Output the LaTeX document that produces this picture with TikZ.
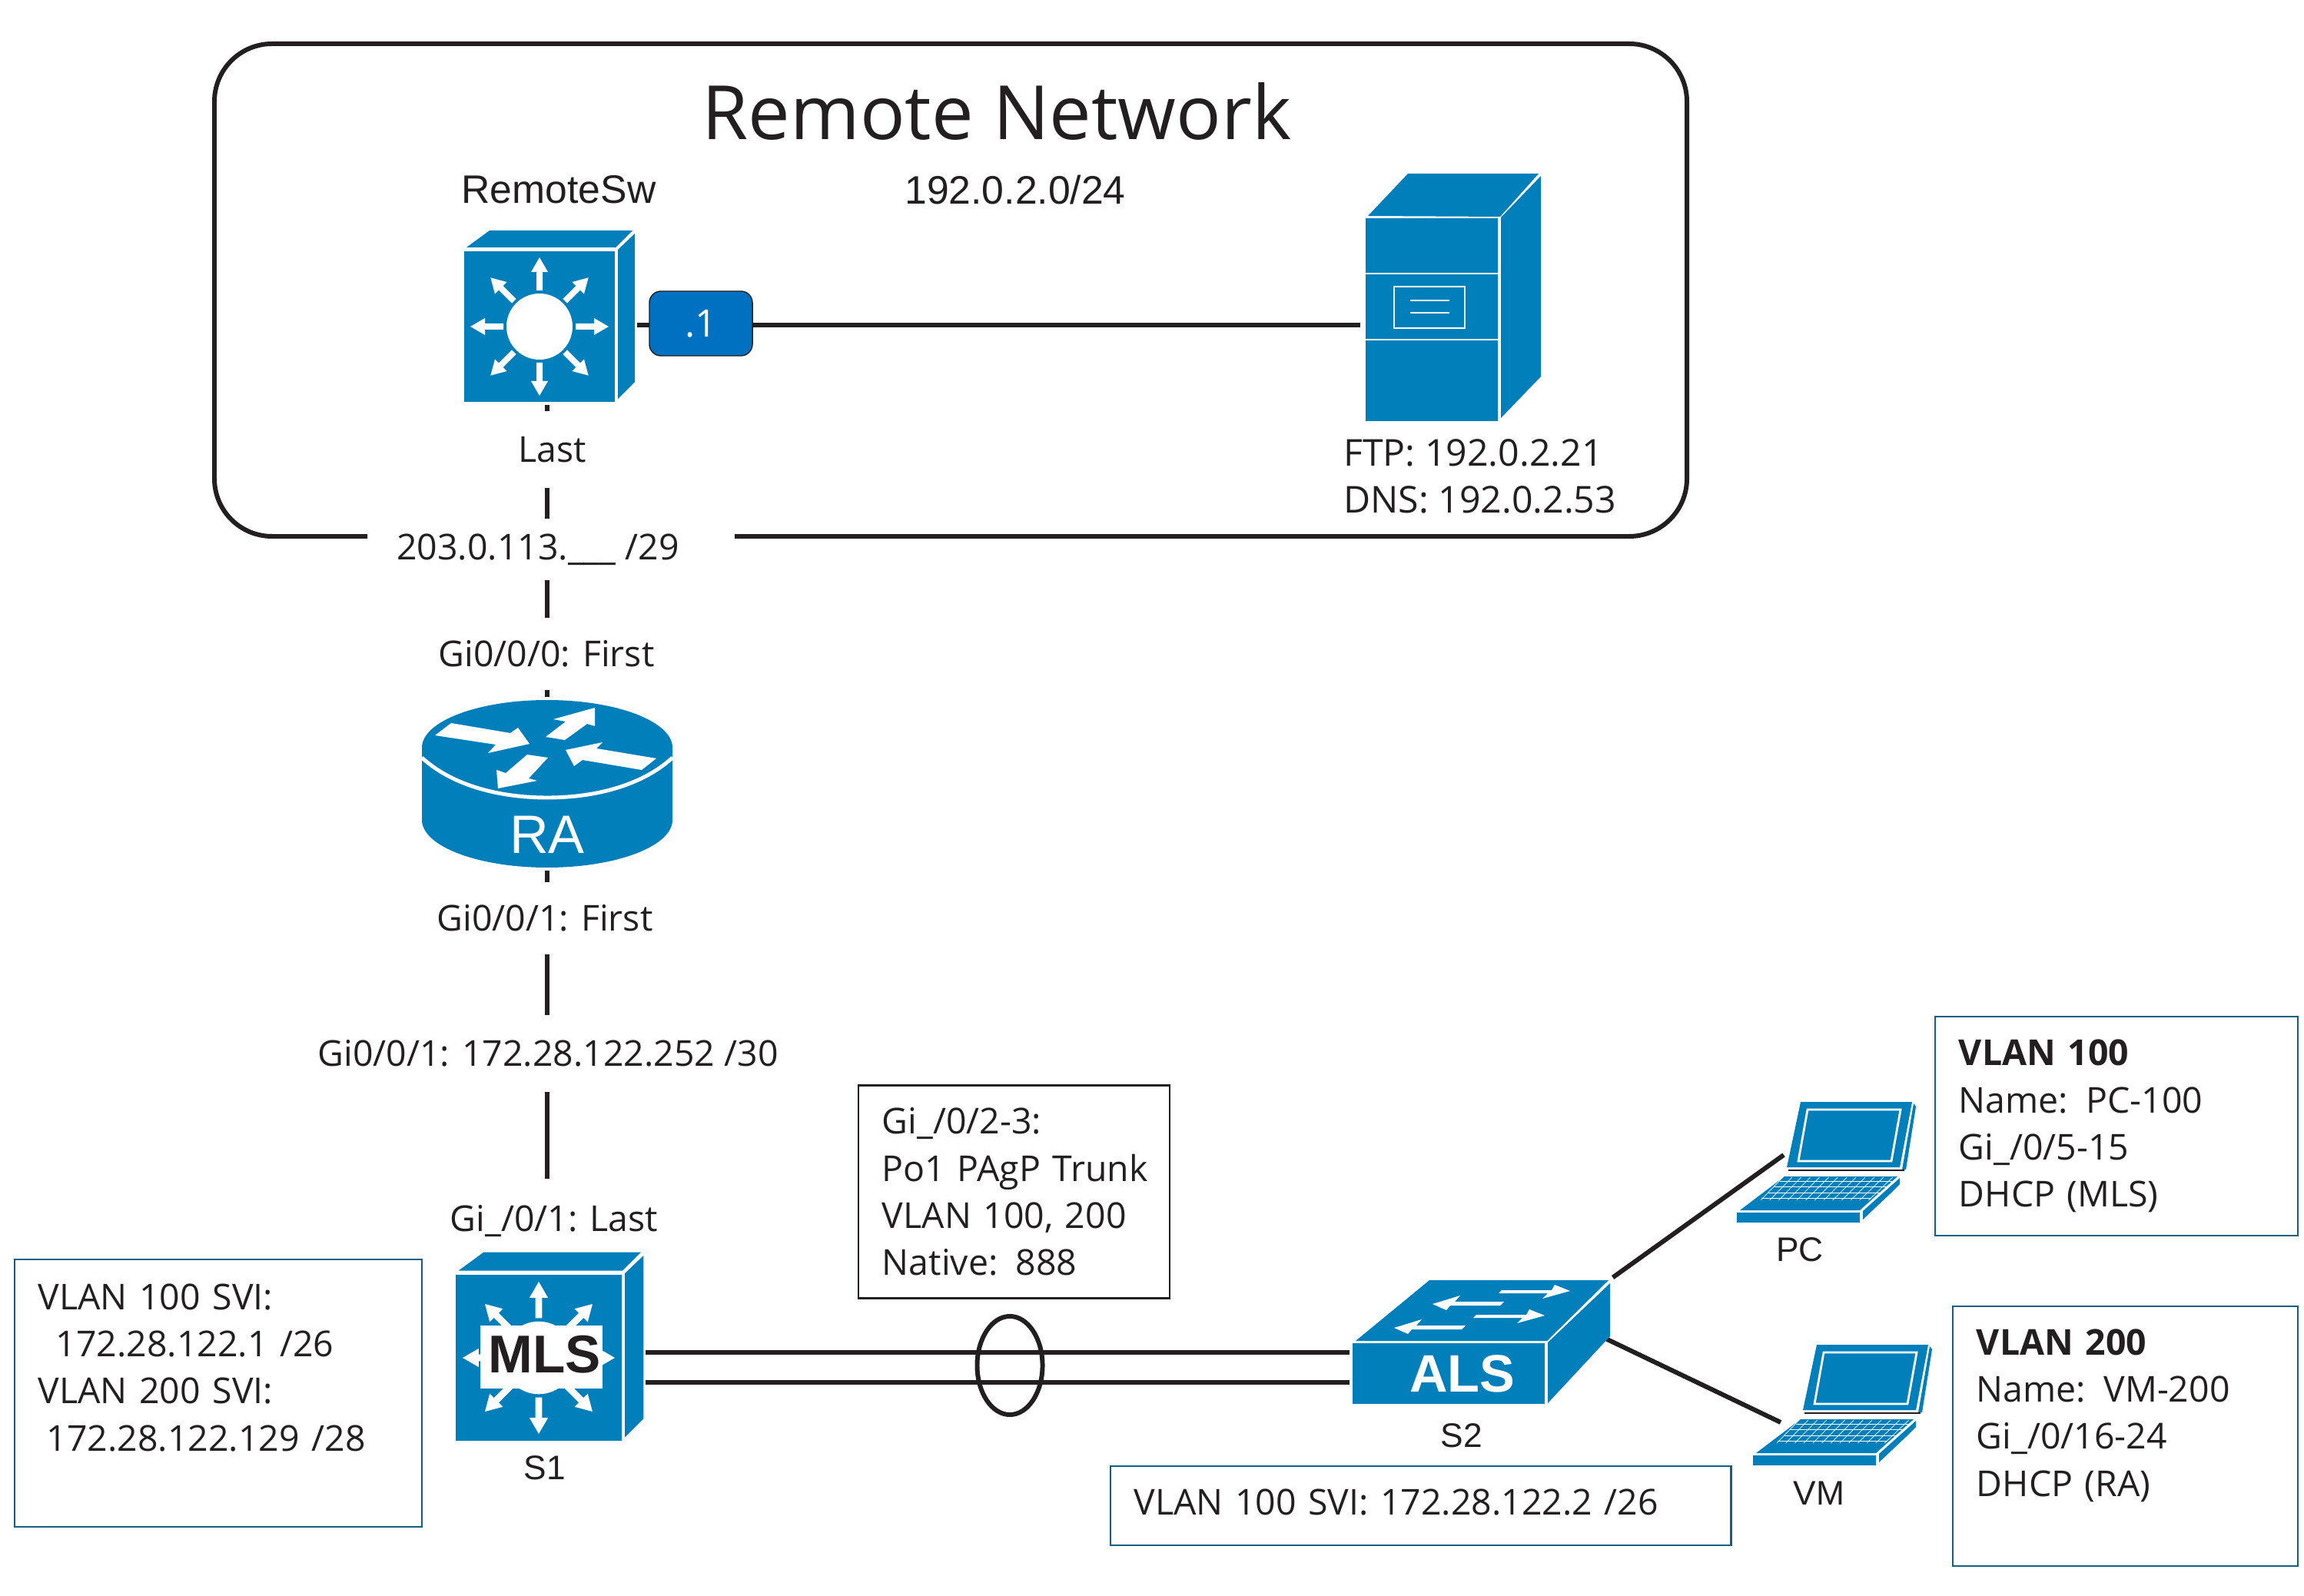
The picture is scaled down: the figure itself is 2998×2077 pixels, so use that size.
\documentclass[tikz,border=0pt]{standalone}
\usepackage{fontspec}
\setmainfont{Open Sans}
\newfontfamily\arialfont{Liberation Sans}
\usetikzlibrary{shapes.geometric}
\definecolor{ink}{HTML}{231F20}
\definecolor{cisco}{HTML}{007FBA}
\definecolor{badgeblue}{HTML}{0070C0}
\definecolor{boxline}{HTML}{156082}
\tikzset{
  wire/.style={draw=ink, line width=1.7pt},
  icon/.style={inner sep=0pt, outer sep=1pt},
  lab/.style={text=ink, font=\fontsize{13.2}{17.4}\selectfont, align=left},
  gaplab/.style={lab, fill=white, inner sep=0pt},
  dev/.style={text=ink, font=\arialfont\fontsize{12.6}{15}\selectfont},
  infobox/.style={lab, draw=boxline, line width=0.7pt, inner xsep=0.31cm, inner ysep=0pt},
  l3switch/.pic={
    \fill[cisco] (-98,-98) rectangle (98,98);
    \fill[cisco] (-95,-103) -- (-65,-125) -- (121,-125) -- (99,-103) -- cycle;
    \fill[cisco] (102,-100) -- (124,-121) -- (124,72) -- (102,94) -- cycle;
    \foreach \a in {0,45,...,315}
      \fill[white,rotate=\a] (47,-4) -- (71,-4) -- (71,-11) -- (90,0) -- (71,11) -- (71,4) -- (47,4) -- cycle;
    \fill[white] (0,0) circle [radius=43];
  },
  routerpic/.pic={
    \fill[cisco] (-163,0) rectangle (163,94);
    \fill[cisco] (0,94) ellipse [x radius=163, y radius=62];
    \fill[cisco] (0,0) ellipse [x radius=163, y radius=62];
    \draw[white, line width=1.4pt] (-163,13) .. controls (-125,48) and (-65,65) .. (0,65) .. controls (65,65) and (125,48) .. (163,13);
    \fill[white] (-146,-16) -- (-125,-32) -- (-48,-19) -- (-38,-26) -- (-23,-5) -- (-77,7) -- (-67,-4) -- cycle;
    \fill[white] (-2,-14) -- (24,-34) -- (8,-37) -- (62,-52) -- (62,-28) -- (52,-31) -- (23,-10) -- cycle;
    \fill[white] (142,14) -- (123,29) -- (46,16) -- (35,24) -- (24,3) -- (72,-7) -- (64,1) -- cycle;
    \fill[white] (-26,9) -- (1,13) -- (-24,40) -- (-13,43) -- (-64,53) -- (-66,29) -- (-54,33) -- cycle;
  },
  serverpic/.pic={
    \fill[cisco] (3,58) rectangle (175,322);
    \fill[cisco] (6,55) -- (58,0) -- (228,0) -- (178,56) -- cycle;
    \fill[cisco] (179,57) -- (231,3) -- (231,264) -- (179,318) -- cycle;
    \draw[white, line width=0.8pt] (3,130) -- (175,130) (3,216) -- (175,216);
    \draw[white, line width=0.8pt] (40,147) rectangle (132,201);
    \draw[white, line width=0.8pt] (61,165) -- (112,165) (61,181) -- (112,181);
  },
  l2switch/.pic={
    \fill[cisco] (0,0) rectangle (250,79);
    \fill[cisco] (4,-3) -- (100,-82) -- (333,-82) -- (253,-3) -- cycle;
    \fill[cisco] (254,-1) -- (335,-78) -- (335,-9) -- (254,78) -- cycle;
    \foreach \dx/\dy in {0/0,-33/32}
      \fill[white,shift={(\dx,\dy)}] (194,-69) -- (259,-69) -- (263,-76) -- (283,-68) -- (247,-58) -- (254,-65) -- (190,-65) -- cycle;
    \foreach \dx/\dy in {0/0,-50/31}
      \fill[white,shift={(\dx,\dy)}] (104,-51) -- (140,-62) -- (133,-54) -- (197,-54) -- (192,-49) -- (127,-49) -- (122,-43) -- cycle;
  },
  laptop/.pic={
    \fill[cisco] (113,34) -- (258,34) -- (242,119) -- (95,119) -- cycle;
    \draw[white, line width=0.8pt] (122,44) -- (243,44) -- (231,111) -- (110,111) -- cycle;
    \fill[cisco] (260,36) -- (263,40) -- (250,122) -- (245,122) -- cycle;
    \draw[ink, line width=0.4pt] (97,123) -- (248,123);
    \fill[cisco] (92,131) -- (239,131) -- (190,175) -- (34,175) -- cycle;
    \draw[white, line width=0.2pt] (86,137) -- (232,137) (78,144) -- (225,144) (71,152) -- (217,152) (62,159) -- (204,159);
    \foreach \i in {0,...,12}
      \draw[white, line width=0.2pt] ({61+11.7*\i},162) -- ({90+11.9*\i},132);
    \fill[cisco] (30,178) rectangle (190,191);
    \fill[cisco] (194,176) -- (242,133) -- (242,141) -- (230,153) -- (194,187) -- cycle;
  },
}
\begin{document}
\begin{tikzpicture}[x=0.01cm, y=-0.01cm]
  \useasboundingbox (0,0) rectangle (2998,2077);
  % remote site frame, left open for the /29 label
  \draw[wire, rounded corners=0.75cm] (478,698) -| (279,57) -| (2195,698) -- (956,698);
  \node[lab, font=\fontsize{27.7}{34}\selectfont] (title) at (1297,145) {Remote Network};
  \node[dev, font=\arialfont\fontsize{14.7}{18}\selectfont] (swname) at (727,247) {RemoteSw};
  \node[dev, font=\arialfont\fontsize{14.7}{18}\selectfont] (subnet) at (1321,247) {192.0.2.0/24};

  % device outlines, used as connector anchors
  \node[icon, minimum width=2.22cm, minimum height=2.23cm] (remotesw) at (714,411.5) {};
  \node[icon, minimum width=2.31cm, minimum height=3.22cm] (server) at (1889.5,387) {};
  \node[icon, minimum width=3.27cm, minimum height=2.18cm] (ra) at (712,1020) {};
  \node[icon, minimum width=2.43cm, minimum height=2.44cm] (s1) at (714.5,1753) {};
  \node[icon, minimum width=3.35cm, minimum height=1.61cm] (s2) at (1927.5,1746.5) {};
  \coordinate (swlink) at (912,423);
  \coordinate (pcport) at (2321,1503);
  \coordinate (vmport) at (2317,1851);
  \coordinate (lagT) at (1314,1760);
  \coordinate (lagB) at (1314,1799);

  \node[gaplab, minimum height=1.08cm] (gis1) at (721,1589) {Gi\_/0/1: Last};

  \draw[wire] (remotesw.east |- swlink) -- (server.west |- swlink);
  \draw[wire] (ra.north |- remotesw.south) -- (ra.north);
  \draw[wire] (ra.south) -- (ra.south |- gis1.north);
  \draw[wire] (s1.east |- lagT) -- (s2.west |- lagT);
  \draw[wire] (s1.east |- lagB) -- (s2.west |- lagB);
  \draw[wire] (s2.north east) -- (pcport);
  \draw[wire, shorten <=-0.10cm] (s2.east) -- (vmport);
  \node[draw=ink, line width=1.7pt, ellipse, inner sep=0pt, minimum width=0.85cm, minimum height=1.28cm] (lag) at (1314,1777) {};
  \node[draw=ink, fill=badgeblue, line width=0.4pt, rounded corners=0.15cm, minimum width=1.34cm, minimum height=0.84cm, inner sep=0pt, text=white, font=\fontsize{14}{16}\selectfont] (badge) at (912,421) {.1};

  % labels that break the vertical link
  \node[gaplab, minimum height=1.00cm] (lastsw) at (719,585) {Last};
  \node[gaplab, minimum height=0.80cm] (wan) at (700,715) {203.0.113.\_\_\_ /29};
  \node[gaplab, minimum height=0.94cm] (gi000) at (711,851) {Gi0/0/0: First};
  \node[gaplab, minimum height=0.94cm] (gi001) at (709,1195) {Gi0/0/1: First};
  \node[gaplab, minimum height=1.00cm] (gis1wan) at (713,1371) {Gi0/0/1: 172.28.122.252 /30};

  \pic at (702,425) {l3switch};
  \pic at (1774,226) {serverpic};
  \pic at (712,973) {routerpic};
  \node[text=white, font=\arialfont\fontsize{20}{24}\selectfont] (ratext) at (712,1086) {RA};
  \pic[scale=1.1] at (701,1767) {l3switch};
  \fill[white] (625,1725) rectangle (784,1807);
  \node[text=ink, font=\arialfont\bfseries\fontsize{19.7}{24}\selectfont] (mlstext) at (709,1763) {MLS};
  \pic at (1760,1748) {l2switch};
  \node[text=white, font=\arialfont\bfseries\fontsize{19.5}{24}\selectfont] (alstext) at (1903,1788) {ALS};
  \pic at (2230,1400) {laptop};
  \pic at (2251,1716) {laptop};

  \node[lab, anchor=west, font=\fontsize{13.7}{17.4}\selectfont] (svc) at (1736,620) {FTP: 192.0.2.21\\DNS: 192.0.2.53};
  \node[dev] (s1name) at (709,1910) {S1};
  \node[dev] (s2name) at (1902,1868) {S2};
  \node[dev] (pcname) at (2342,1626) {PC};
  \node[dev] (vmname) at (2367,1943) {VM};

  % info boxes
  \node[infobox, text width=4.68cm, minimum height=3.48cm] (sviS1) at (284,1813) {VLAN 100 SVI:\\\hspace*{0.23cm}172.28.122.1 /26\\VLAN 200 SVI:\\\hspace*{0.11cm}172.28.122.129 /28\\[0.06cm]~};
  \node[infobox, draw=ink, text width=3.43cm, minimum height=2.77cm] (trunk) at (1319.5,1551) {Gi\_/0/2-3:\\Po1~PAgP~Trunk\\VLAN 100, 200\\Native: 888};
  \node[infobox, text width=7.45cm, minimum height=1.03cm, text depth=0.10cm] (sviS2) at (1848.5,1959.5) {VLAN 100 SVI: 172.28.122.2 /26};
  \node[infobox, text width=4.10cm, minimum height=2.85cm] (vlanA) at (2754,1465.5) {\textbf{VLAN 100}\\Name: PC-100\\Gi\_/0/5-15\\DHCP (MLS)};
  \node[infobox, text width=3.87cm, minimum height=3.38cm] (vlanB) at (2765.5,1869) {\textbf{VLAN 200}\\Name: VM-200\\Gi\_/0/16-24\\DHCP (RA)\\~};
\end{tikzpicture}
\end{document}
